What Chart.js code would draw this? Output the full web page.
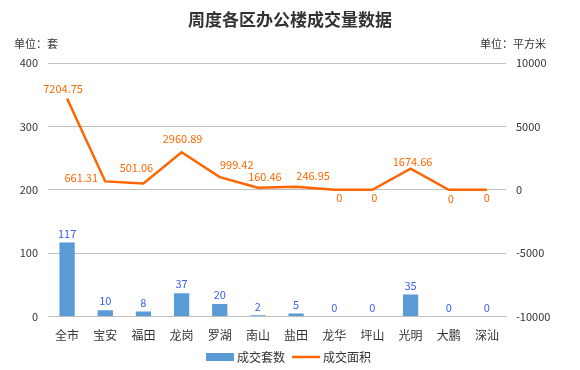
<!DOCTYPE html>
<html>
<head>
<meta charset="utf-8">
<script src="https://cdn.jsdelivr.net/npm/chart.js@4"></script>
<style>
  html, body { margin: 0; padding: 0; background: #fff; }
  #wrap { width: 580px; height: 370px; }
</style>
</head>
<body>
<div id="wrap"><canvas id="grafico" width="580" height="370"></canvas></div>
<script>
const districts = ['全市', '宝安', '福田', '龙岗', '罗湖', '南山', '盐田', '龙华', '坪山', '光明', '大鹏', '深汕'];
const units = [117, 10, 8, 37, 20, 2, 5, 0, 0, 35, 0, 0];           // 成交套数
const area = [7204.75, 661.31, 501.06, 2960.89, 999.42, 160.46, 246.95, 0, 0, 1674.66, 0, 0]; // 成交面积
const leftTicks = [0, 100, 200, 300, 400];
const rightTicks = [-10000, -5000, 0, 5000, 10000];

// where each line label sits relative to its point (dx, dy)
const areaLabelOffset = [[-4, -10], [-24, -4], [-7, -16], [1, -13], [17, -12], [7, -11], [17, -11], [5, 8], [2, 8], [2, -7], [2, 9], [0, 8]];

const FONT = '"Noto Sans CJK SC", "Noto Sans", sans-serif';
const BLUE = '#5b9bd5';
const ORANGE = '#ff6600';

const labelsPlugin = {
  id: 'rotulos',
  afterDatasetsDraw(chart) {
    const ctx = chart.ctx;
    ctx.save();
    ctx.textAlign = 'center';
    ctx.textBaseline = 'middle';
    ctx.font = '11px ' + FONT;

    // bar values
    ctx.fillStyle = '#3a5ef0';
    chart.getDatasetMeta(0).data.forEach((bar, i) => {
      ctx.fillText(String(units[i]), bar.x, bar.y - 9);
    });

    // line values
    ctx.fillStyle = ORANGE;
    chart.getDatasetMeta(1).data.forEach((pt, i) => {
      const off = areaLabelOffset[i];
      ctx.fillText(String(area[i]), pt.x + off[0], pt.y + off[1]);
    });
    ctx.restore();
  },
  afterDraw(chart) {
    const ctx = chart.ctx;
    ctx.save();
    ctx.fillStyle = '#333';
    ctx.textBaseline = 'middle';
    ctx.font = 'bold 17px ' + FONT;
    ctx.textAlign = 'center';
    ctx.fillText('周度各区办公楼成交量数据', 290, 20);
    ctx.font = '11px ' + FONT;
    ctx.textAlign = 'left';
    ctx.fillText('单位：套', 14, 44);
    ctx.textAlign = 'right';
    ctx.fillText('单位：平方米', 546, 44);

    // legend
    const ly = 357;
    ctx.font = '12px ' + FONT;
    ctx.textAlign = 'left';
    ctx.fillStyle = BLUE;
    ctx.fillRect(206, ly - 4, 28, 8);
    ctx.fillStyle = '#333';
    ctx.fillText(chart.data.datasets[0].label, 237, ly);
    ctx.strokeStyle = ORANGE;
    ctx.lineWidth = 2.5;
    ctx.beginPath();
    ctx.moveTo(292, ly);
    ctx.lineTo(320, ly);
    ctx.stroke();
    ctx.fillText(chart.data.datasets[1].label, 323, ly);
    ctx.restore();
  }
};

const ctx = document.getElementById('grafico').getContext('2d');

const grafico = new Chart(ctx, {
  data: {
    labels: districts,
    datasets: [{
      type: 'bar',
      label: '成交套数',
      data: units,
      yAxisID: 'y',
      backgroundColor: BLUE,
      barPercentage: 0.8,
      categoryPercentage: 0.5
    }, {
      type: 'line',
      label: '成交面积',
      data: area,
      yAxisID: 'y1',
      borderColor: ORANGE,
      backgroundColor: ORANGE,
      borderWidth: 2.5,
      tension: 0,
      pointRadius: 0
    }]
  },
  options: {
    responsive: false,
    animation: false,
    layout: { padding: { top: 63, left: 0, right: 0, bottom: 23 } },
    plugins: {
      tooltip: { enabled: false },
      legend: { display: false }
    },
    scales: {
      x: {
        grid: { display: false },
        border: { color: '#bfbfbf' },
        ticks: { color: '#333', font: { family: FONT, size: 12 }, padding: 4 }
      },
      y: {
        position: 'left',
        min: 0,
        max: 400,
        afterFit(scale) { scale.width = 48; },
        afterBuildTicks(scale) { scale.ticks = leftTicks.map(v => ({ value: v })); },
        grid: { color: '#c0c0c0', drawTicks: false },
        border: { display: false },
        ticks: { color: '#333', font: { family: FONT, size: 11 }, padding: 10 }
      },
      y1: {
        position: 'right',
        min: -10000,
        max: 10000,
        afterFit(scale) { scale.width = 74; },
        afterBuildTicks(scale) { scale.ticks = rightTicks.map(v => ({ value: v })); },
        grid: { display: false, drawTicks: false },
        border: { display: false },
        ticks: { color: '#333', font: { family: FONT, size: 11 }, padding: 10, callback: v => String(v) }
      }
    }
  },
  plugins: [labelsPlugin]
});
</script>
</body>
</html>
